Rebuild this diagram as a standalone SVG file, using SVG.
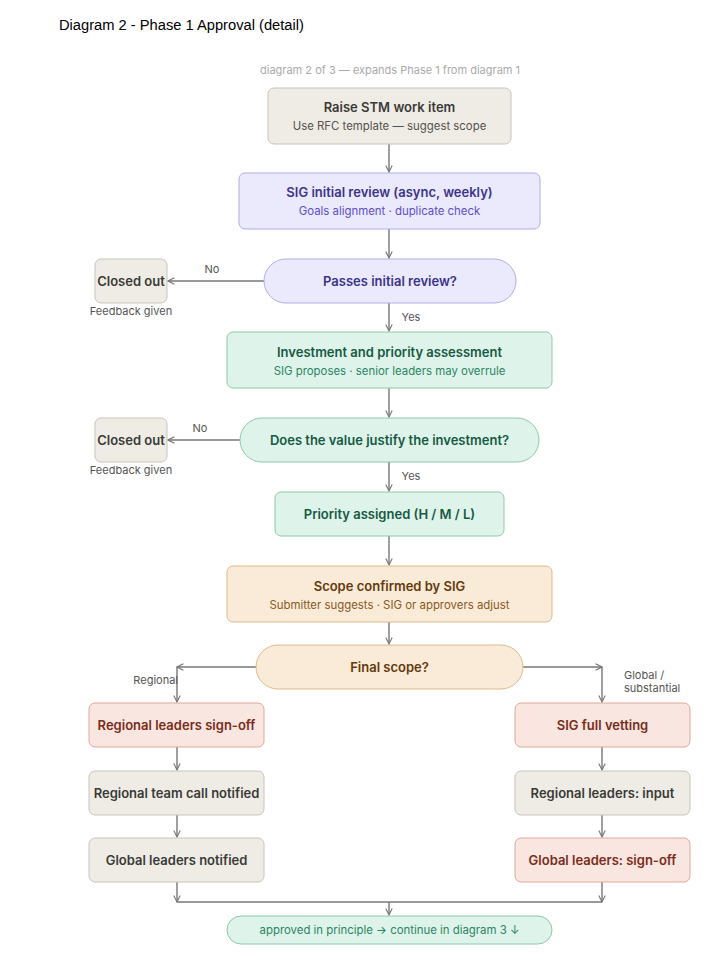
<svg xmlns="http://www.w3.org/2000/svg" width="722" height="960" viewBox="0 0 722 960">
<defs>
<marker id="ah" viewBox="0 0 10 10" refX="9" refY="5" markerWidth="8" markerHeight="8" markerUnits="userSpaceOnUse" orient="auto">
<path d="M1,1 L9,5 L1,9" fill="none" stroke="#777" stroke-width="1.4"/>
</marker>
<style>
text{font-family:Inter,"Liberation Sans",sans-serif}
.t{font-size:13px;font-weight:600;text-anchor:middle}
.s{font-size:11.4px;text-anchor:middle}
.lbl{font-size:11px;fill:#555}
.gray rect{fill:#efece6;stroke:#c9c4ba}
.gray .t{fill:#3a3a36}.gray .s{fill:#55534e}
.pur rect{fill:#ebe9fc;stroke:#b3abeb}
.pur .t{fill:#3c3489}.pur .s{fill:#5b50c8}
.grn rect{fill:#def3ea;stroke:#8cc9ae}
.grn .t{fill:#175a43}.grn .s{fill:#2c8564}
.org rect{fill:#faebd8;stroke:#dcbb8a}
.org .t{fill:#633a0c}.org .s{fill:#8a5a1c}
.red rect{fill:#f9e6e0;stroke:#dfa899}
.red .t{fill:#7a2c1b}
rect{stroke-width:1}
.c line,.c path{stroke:#777;stroke-width:1.4;fill:none}
.a{marker-end:url(#ah)}
</style>
</defs>
<rect width="722" height="960" fill="#fff"/>
<text x="59" y="30" style="font-family:'Liberation Sans',Arial,sans-serif;font-size:14.7px;fill:#000">Diagram 2 - Phase 1 Approval (detail)</text>
<text x="390" y="74" style="font-size:11px;fill:#aaa;text-anchor:middle">diagram 2 of 3 — expands Phase 1 from diagram 1</text>

<g class="c" id="connectors">
<line class="a" x1="389" y1="144" x2="389" y2="172"/>
<line class="a" x1="389" y1="229" x2="389" y2="258"/>
<line class="a" x1="264" y1="281" x2="168" y2="281"/>
<line class="a" x1="389" y1="303" x2="389" y2="331"/>
<line class="a" x1="389" y1="388" x2="389" y2="417"/>
<line class="a" x1="240" y1="440" x2="168" y2="440"/>
<line class="a" x1="389" y1="462" x2="389" y2="491"/>
<line class="a" x1="389" y1="536" x2="389" y2="565"/>
<line class="a" x1="389" y1="622" x2="389" y2="644"/>
<line class="a" x1="256" y1="667" x2="177" y2="667"/>
<line class="a" x1="177" y1="667" x2="177" y2="702"/>
<line class="a" x1="523" y1="667" x2="602" y2="667"/>
<line class="a" x1="602" y1="667" x2="602" y2="702"/>
<line class="a" x1="177" y1="747" x2="177" y2="770"/>
<line class="a" x1="177" y1="815" x2="177" y2="837"/>
<line class="a" x1="602" y1="747" x2="602" y2="770"/>
<line class="a" x1="602" y1="815" x2="602" y2="837"/>
<line class="a" x1="177" y1="882" x2="177" y2="902"/>
<line class="a" x1="602" y1="882" x2="602" y2="902"/>
<line x1="177" y1="902" x2="602" y2="902"/>
<line class="a" x1="389" y1="902" x2="389" y2="915"/>
<text class="lbl" x="212" y="273" text-anchor="middle">No</text>
<text class="lbl" x="411" y="321" text-anchor="middle">Yes</text>
<text class="lbl" x="200" y="432" text-anchor="middle">No</text>
<text class="lbl" x="411" y="480" text-anchor="middle">Yes</text>
<text class="lbl" x="178" y="684" text-anchor="end">Regional</text>
<text class="lbl" x="624" y="679">Global /</text>
<text class="lbl" x="624" y="692">substantial</text>
</g>

<g id="raise" class="gray">
<rect x="268" y="88" width="243" height="56" rx="6"/>
<text class="t" x="389.5" y="112">Raise STM work item</text>
<text class="s" x="389.5" y="130">Use RFC template — suggest scope</text>
</g>
<g id="sig-review" class="pur">
<rect x="239" y="173" width="301" height="56" rx="6"/>
<text class="t" x="389.5" y="197">SIG initial review (async, weekly)</text>
<text class="s" x="389.5" y="215">Goals alignment · duplicate check</text>
</g>
<g id="passes" class="pur">
<rect x="264" y="259" width="252" height="44" rx="22"/>
<text class="t" x="390" y="286">Passes initial review?</text>
</g>
<g id="closed1" class="gray">
<rect x="95" y="259" width="72" height="44" rx="6"/>
<text class="t" x="131" y="286">Closed out</text>
<text class="lbl" x="131" y="315" text-anchor="middle">Feedback given</text>
</g>
<g id="invest" class="grn">
<rect x="227" y="332" width="325" height="56" rx="6"/>
<text class="t" x="389.5" y="357">Investment and priority assessment</text>
<text class="s" x="389.5" y="375">SIG proposes · senior leaders may overrule</text>
</g>
<g id="value" class="grn">
<rect x="240" y="418" width="299" height="44" rx="22"/>
<text class="t" x="389.5" y="445">Does the value justify the investment?</text>
</g>
<g id="closed2" class="gray">
<rect x="95" y="418" width="72" height="44" rx="6"/>
<text class="t" x="131" y="445">Closed out</text>
<text class="lbl" x="131" y="474" text-anchor="middle">Feedback given</text>
</g>
<g id="priority" class="grn">
<rect x="275" y="492" width="229" height="44" rx="6"/>
<text class="t" x="389.5" y="519">Priority assigned (H / M / L)</text>
</g>
<g id="scope" class="org">
<rect x="227" y="566" width="325" height="56" rx="6"/>
<text class="t" x="389.5" y="591">Scope confirmed by SIG</text>
<text class="s" x="389.5" y="609">Submitter suggests · SIG or approvers adjust</text>
</g>
<g id="final" class="org">
<rect x="256" y="645" width="267" height="44" rx="22"/>
<text class="t" x="389.5" y="672">Final scope?</text>
</g>
<g id="reg-signoff" class="red">
<rect x="89" y="703" width="175" height="44" rx="6"/>
<text class="t" x="176.5" y="730">Regional leaders sign-off</text>
</g>
<g id="sig-vetting" class="red">
<rect x="515" y="703" width="175" height="44" rx="6"/>
<text class="t" x="602.5" y="730">SIG full vetting</text>
</g>
<g id="reg-team" class="gray">
<rect x="89" y="771" width="175" height="44" rx="6"/>
<text class="t" x="176.5" y="798">Regional team call notified</text>
</g>
<g id="reg-input" class="gray">
<rect x="515" y="771" width="175" height="44" rx="6"/>
<text class="t" x="602.5" y="798">Regional leaders: input</text>
</g>
<g id="glob-notified" class="gray">
<rect x="89" y="838" width="175" height="44" rx="6"/>
<text class="t" x="176.5" y="865">Global leaders notified</text>
</g>
<g id="glob-signoff" class="red">
<rect x="515" y="838" width="175" height="44" rx="6"/>
<text class="t" x="602.5" y="865">Global leaders: sign-off</text>
</g>
<g id="approved" class="grn">
<rect x="227" y="916" width="325" height="28" rx="14"/>
<text class="s" x="389.5" y="934" style="fill:#2c8564">approved in principle → continue in diagram 3 ↓</text>
</g>
</svg>
